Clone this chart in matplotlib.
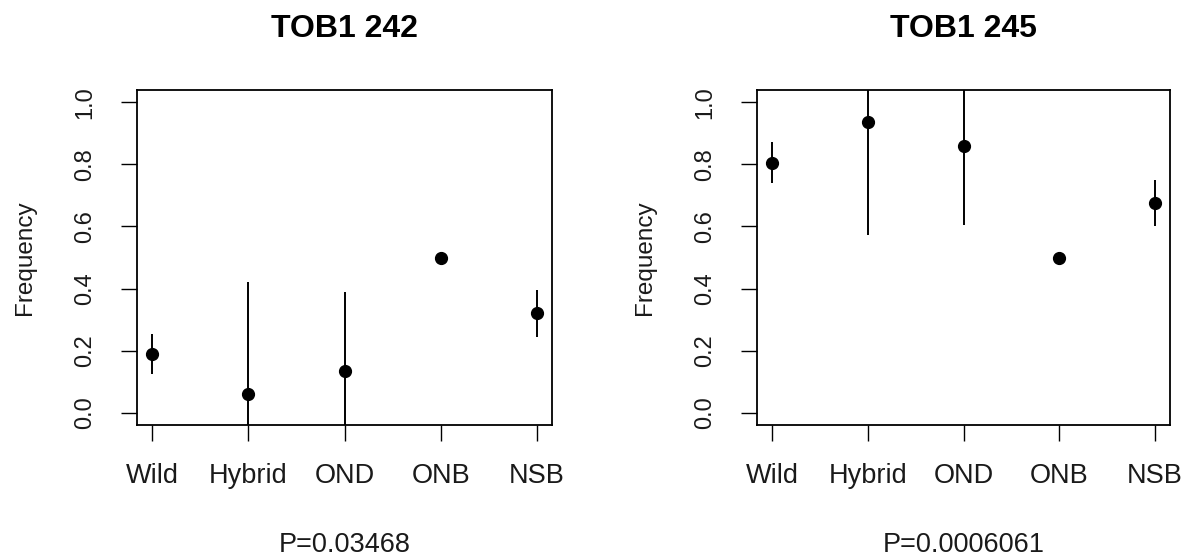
import matplotlib
matplotlib.use("Agg")
import matplotlib.pyplot as plt

plt.rcParams['font.family'] = ['Liberation Sans', 'DejaVu Sans']

categories = ["Wild", "Hybrid", "OND", "ONB", "NSB"]

titles = ["TOB1 242", "TOB1 245"]
pvalues = ["P=0.03468", "P=0.0006061"]

freq_242 = [0.19, 0.06, 0.135, 0.50, 0.32]
low_242 = [0.126, -0.20, -0.10, 0.50, 0.243]
high_242 = [0.252, 0.42, 0.39, 0.50, 0.396]

freq_245 = [0.805, 0.936, 0.858, 0.50, 0.675]
low_245 = [0.739, 0.573, 0.605, 0.50, 0.60]
high_245 = [0.871, 1.30, 1.10, 0.50, 0.75]

yticks = [0.0, 0.2, 0.4, 0.6, 0.8, 1.0]

fig = plt.figure(figsize=(11.95, 5.6), dpi=100)
W, H = 1195, 560
TOP, BOT = 90, 425
AH = BOT - TOP

panels = [
    (137, 415, titles[0], pvalues[0], freq_242, low_242, high_242),
    (757, 413, titles[1], pvalues[1], freq_245, low_245, high_245),
]

txt = '#1a1a1a'
for left_px, w_px, title, ptxt, f, lo, hi in panels:
    ax = fig.add_axes([left_px / W, 1 - BOT / H, w_px / W, AH / H])
    x = list(range(1, len(categories) + 1))
    for xi, l, h in zip(x, lo, hi):
        if h > l:
            ax.plot([xi, xi], [l, h], color='black', lw=1.4, solid_capstyle='butt')
    ax.plot(x, f, 'o', color='black', markersize=8.5, linestyle='none')
    ax.set_xlim(0.84, 5.16)
    ax.set_ylim(-0.04, 1.04)
    ax.set_xticks(x)
    ax.set_xticklabels(categories, fontsize=19.5, color=txt)
    ax.set_yticks(yticks)
    ax.set_yticklabels([f"{v:.1f}" for v in yticks], fontsize=17, color=txt,
                       rotation=90, va='center')
    ax.tick_params(axis='x', length=11.5, width=1.0, pad=16)
    ax.tick_params(axis='y', length=11.5, width=1.0, pad=18)
    for s in ax.spines.values():
        s.set_linewidth(1.3)
    ax.set_ylabel("Frequency", fontsize=17.5, color=txt)
    ax.yaxis.set_label_coords(-101 / w_px, 0.5)
    ax.text(0.5, (BOT - 37) / AH, title, transform=ax.transAxes, ha='center',
            va='baseline', fontsize=23, fontweight='bold', color='black')
    ax.text(0.5, (BOT - 552) / AH, ptxt, transform=ax.transAxes, ha='center',
            va='baseline', fontsize=19.5, color=txt)

fig.savefig("out.png", dpi=100)
